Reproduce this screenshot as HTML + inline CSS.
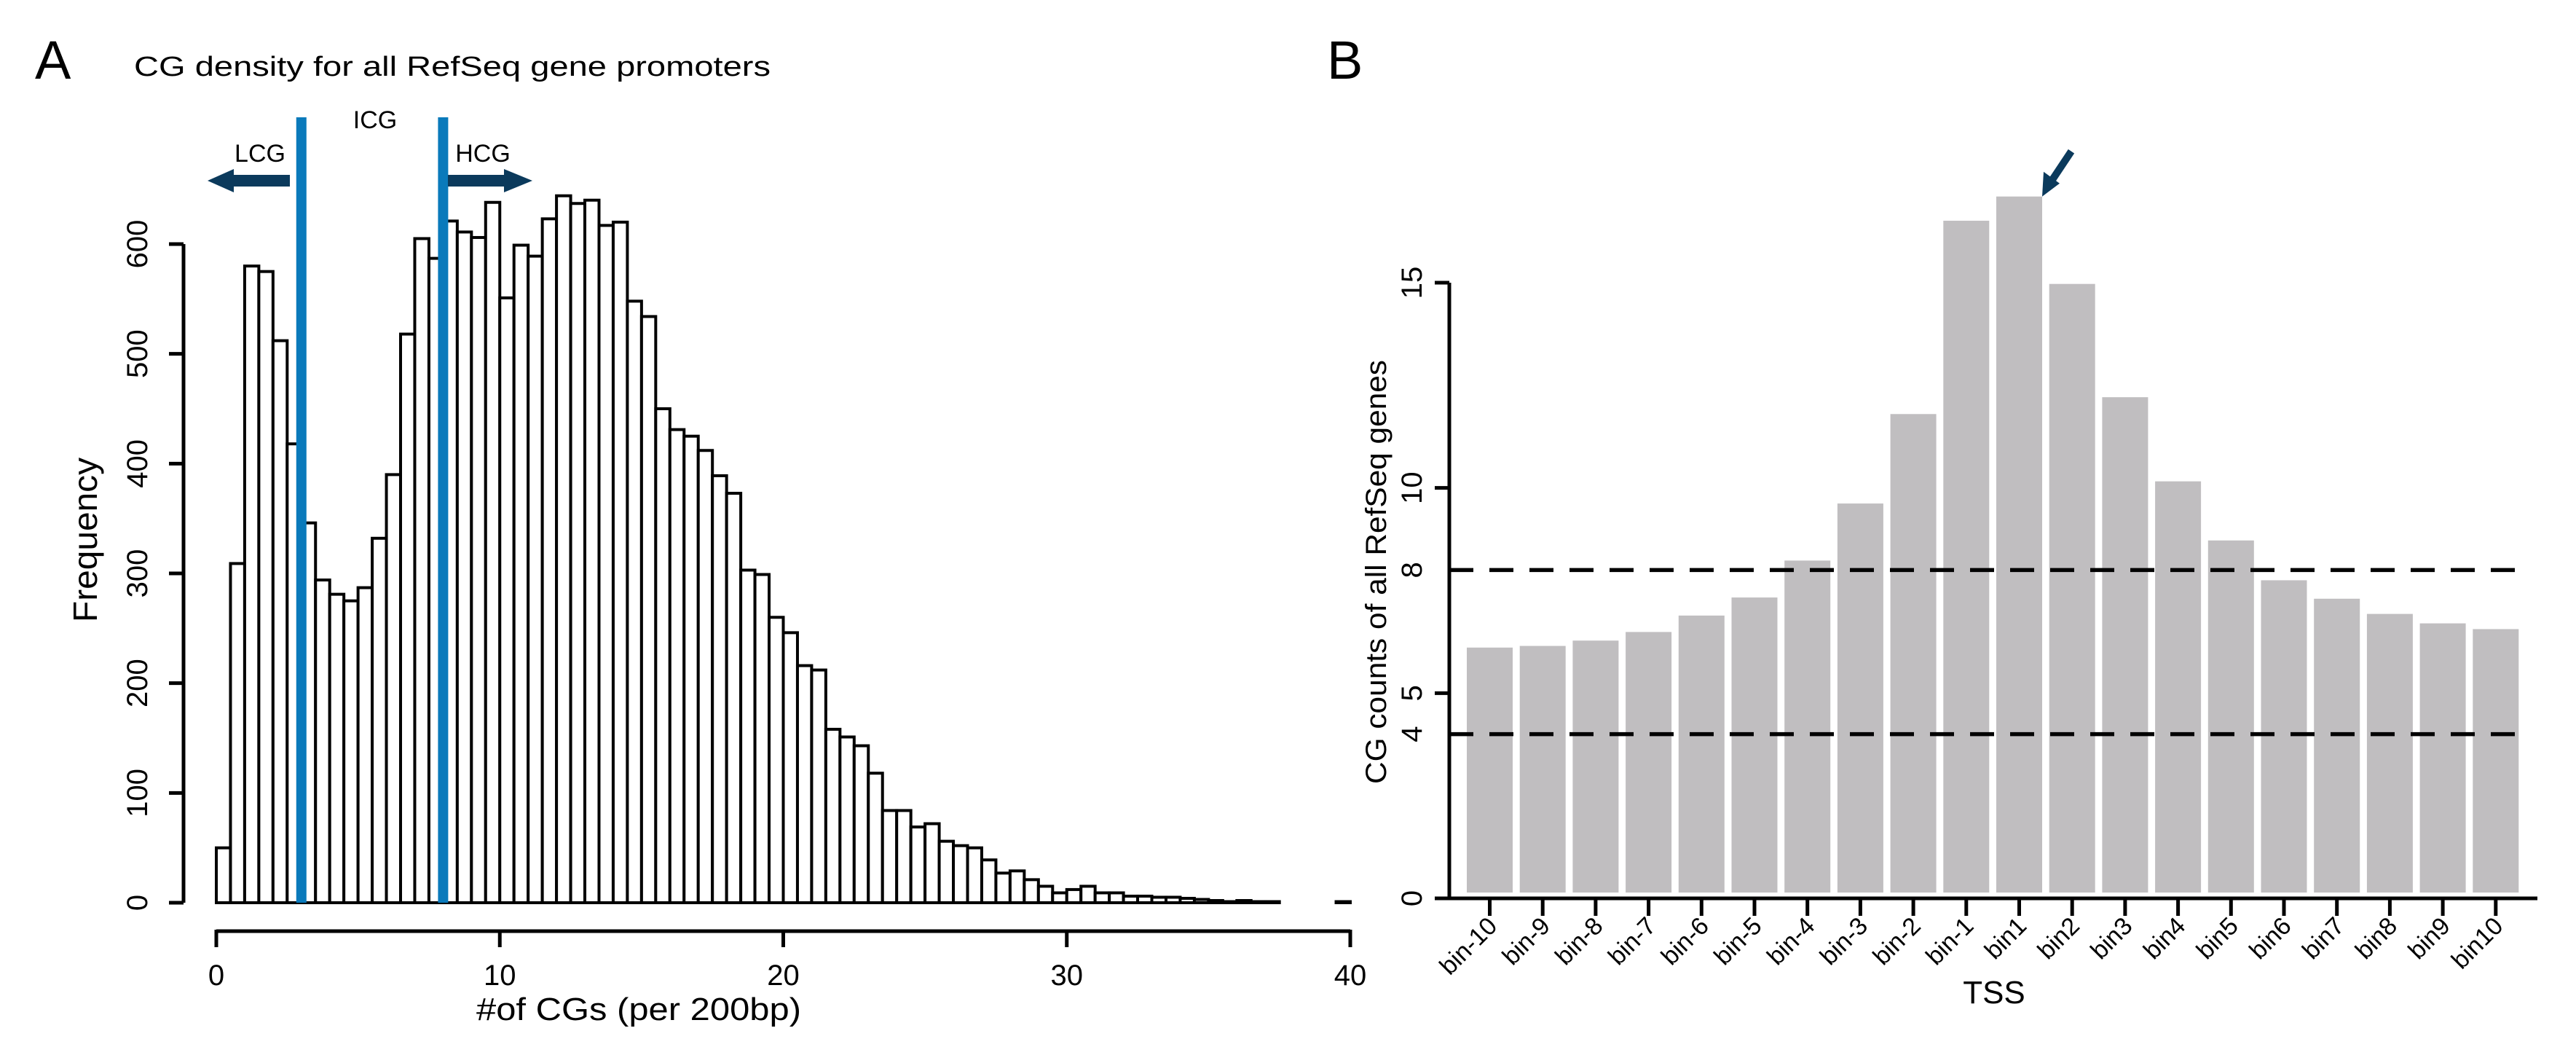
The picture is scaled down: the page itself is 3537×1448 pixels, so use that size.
<!DOCTYPE html>
<html><head><meta charset="utf-8"><style>
html,body{margin:0;padding:0;background:#fff;}
svg{display:block;font-family:"Liberation Sans",Arial,sans-serif;}
</style></head><body>
<svg id="chart" width="3537" height="1448" viewBox="0 0 3537 1448" xmlns="http://www.w3.org/2000/svg">
<g id="panelA"></g>
<g id="panelB"></g>
</svg>
<script>
// Panel A data: histogram of #CGs per 200bp, bin width 0.5
const histBinWidth = 0.5;
const histCounts = [50,309,580,575,512,418,346,294,281,275,287,332,390,518,605,587,621,611,606,638,551,599,589,623,644,637,640,617,620,548,534,450,431,425,412,389,373,303,299,260,246,216,212,158,151,143,118,84,84,69,72,56,52,50,39,27,29,21,15,9,12,15,9,9,6,6,5,5,4,3,2,1,2,1,1,0,0,0,0,1];
const histXTicks = [0,10,20,30,40];
const histYTicks = [0,100,200,300,400,500,600];
const cutoffs = [3,8];
// Panel B data
const binLabels = ["bin-10","bin-9","bin-8","bin-7","bin-6","bin-5","bin-4","bin-3","bin-2","bin-1","bin1","bin2","bin3","bin4","bin5","bin6","bin7","bin8","bin9","bin10"];
const binValues = [6.11,6.15,6.28,6.49,6.89,7.33,8.23,9.62,11.80,16.51,17.10,14.97,12.21,10.16,8.72,7.75,7.30,6.93,6.70,6.56];
const bYTicks = [0,5,10,15];
const bYExtraLabels = [4,8];
const bRefLines = [4,8];

const NS="http://www.w3.org/2000/svg";
function mk(tag, attrs, parent, text){
  const e=document.createElementNS(NS,tag);
  for(const k in attrs) e.setAttribute(k,attrs[k]);
  if(text!==undefined) e.textContent=text;
  parent.appendChild(e); return e;
}
// ---------- Panel A ----------
const A=document.getElementById('panelA');
const xA=v=>297+v*(1854-297)/40;
const yA=v=>1239-v*(904/600);
let t;
t=mk('text',{x:48,y:108,'font-size':74},A,'A');


t=mk('text',{x:184,y:104,'font-size':38,textLength:874,lengthAdjust:'spacingAndGlyphs'},A,'CG density for all RefSeq gene promoters');


histCounts.forEach((c,i)=>{
  if(c<=0) return;
  const x0=xA(i*histBinWidth), x1=xA((i+1)*histBinWidth);
  const r=mk('rect',{x:x0,y:yA(c),width:x1-x0,height:yA(0)-yA(c),fill:'#fff',stroke:'#000','stroke-width':4},A);
  
  
});
// y axis
t=mk('line',{x1:252,y1:yA(0),x2:252,y2:yA(600),stroke:'#000','stroke-width':5},A);


histYTicks.forEach(v=>{
  const tk=mk('line',{x1:232,y1:yA(v),x2:252,y2:yA(v),stroke:'#000','stroke-width':5},A);
  
  
  const lb=mk('text',{x:0,y:0,'font-size':40,'text-anchor':'middle',transform:`translate(202,${yA(v)}) rotate(-90)`},A,String(v));
  
  
});
t=mk('text',{x:0,y:0,'font-size':46,'text-anchor':'middle',transform:'translate(133,741) rotate(-90)',textLength:226,lengthAdjust:'spacingAndGlyphs'},A,'Frequency');


// x axis
t=mk('line',{x1:xA(0),y1:1278,x2:xA(40),y2:1278,stroke:'#000','stroke-width':5},A);


histXTicks.forEach(v=>{
  const tk=mk('line',{x1:xA(v),y1:1276,x2:xA(v),y2:1300,stroke:'#000','stroke-width':5},A);
  
  
  const lb=mk('text',{x:xA(v),y:1352,'font-size':40,'text-anchor':'middle'},A,String(v));
  
  
});
t=mk('text',{x:877,y:1400,'font-size':44,'text-anchor':'middle',textLength:446,lengthAdjust:'spacingAndGlyphs'},A,'#of CGs (per 200bp)');


// cutoffs
cutoffs.forEach(c=>{
  const l=mk('rect',{x:xA(c)-7,y:161,width:14,height:yA(0)-161,fill:'#0a7abb'},A);
  
  
});
t=mk('path',{d:'M398,240 L321,240 L321,232 L285,248 L321,264 L321,256 L398,256 Z',fill:'#0b3a5c'},A);


t=mk('path',{d:'M615,240 L692,240 L692,232 L731,248 L692,264 L692,256 L615,256 Z',fill:'#0b3a5c'},A);


t=mk('text',{x:357,y:222,'font-size':34,'text-anchor':'middle'},A,'LCG');


t=mk('text',{x:663,y:222,'font-size':34,'text-anchor':'middle'},A,'HCG');


t=mk('text',{x:515,y:176,'font-size':34,'text-anchor':'middle'},A,'ICG');



// ---------- Panel B ----------
const B=document.getElementById('panelB');
const yB=v=>1233-v*(845/15);
const barW=63, pitch=72.7, x0B=2014;
const xB=i=>x0B+i*pitch;
t=mk('text',{x:1822,y:108,'font-size':74},B,'B');


binValues.forEach((v,i)=>{
  const r=mk('rect',{x:xB(i),y:yB(v),width:barW,height:yB(0)-8-yB(v),fill:'#c0bec0'},B);
  
  
});
bRefLines.forEach(v=>{
  const l=mk('line',{x1:1990,y1:yB(v),x2:3471,y2:yB(v),stroke:'#000','stroke-width':5.5,'stroke-dasharray':'33 22'},B);
  
  
});
t=mk('line',{x1:1990,y1:yB(0),x2:1990,y2:yB(15),stroke:'#000','stroke-width':5},B);


bYTicks.forEach(v=>{
  const tk=mk('line',{x1:1970,y1:yB(v),x2:1990,y2:yB(v),stroke:'#000','stroke-width':5},B);
  
  
});
bYTicks.concat(bYExtraLabels).forEach(v=>{
  const lb=mk('text',{x:0,y:0,'font-size':40,'text-anchor':'middle',transform:`translate(1952,${yB(v)}) rotate(-90)`},B,String(v));
  
  
});
t=mk('text',{x:0,y:0,'font-size':40,'text-anchor':'middle',transform:'translate(1903,785) rotate(-90)',textLength:582,lengthAdjust:'spacingAndGlyphs'},B,'CG counts of all RefSeq genes');


t=mk('line',{x1:1988,y1:yB(0),x2:3484,y2:yB(0),stroke:'#000','stroke-width':5},B);


binLabels.forEach((lab,i)=>{
  const cx=xB(i)+barW/2;
  const tk=mk('line',{x1:cx,y1:yB(0),x2:cx,y2:yB(0)+24,stroke:'#000','stroke-width':5},B);
  
  
  const lb=mk('text',{x:0,y:0,'font-size':34,'text-anchor':'end',transform:`translate(${cx+12},${yB(0)+40}) rotate(-45)`},B,lab);
  
  
});
t=mk('text',{x:2738,y:1377,'font-size':44,'text-anchor':'middle'},B,'TSS');


// arrow pointing to bin1
const pk=xB(10)+barW;
const py=yB(binValues[10]);
t=mk('line',{x1:pk+40,y1:py-62,x2:pk+12,y2:py-20,stroke:'#0b3a5c','stroke-width':10},B);


t=mk('path',{d:`M${pk},${py} L${pk+2},${py-34} L${pk+24},${py-18} Z`,fill:'#0b3a5c'},B);


</script>
</body></html>
